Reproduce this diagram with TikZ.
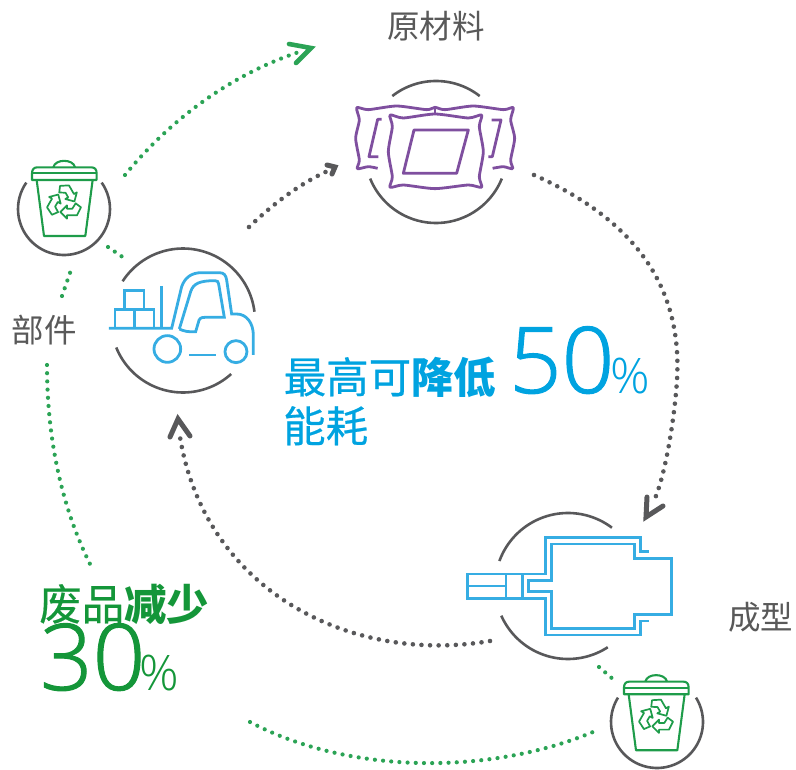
\documentclass[tikz,border=0pt]{standalone}
\usepackage{fontspec}
\setmainfont{Noto Sans CJK SC}
\newfontfamily\cjkr[FakeBold=0.5]{Noto Sans CJK SC}
\newfontfamily\numfont[FakeBold=1.2]{Open Sans Light}
\newfontfamily\numthin{Open Sans Light}
\newcommand{\heavy}[1]{{\normalfont\bfseries #1}}
\definecolor{gr}{HTML}{58585A}
\definecolor{txtgr}{HTML}{595959}
\definecolor{blueT}{HTML}{00A3E0}
\definecolor{blueI}{HTML}{36ADE3}
\definecolor{greenT}{HTML}{149639}
\definecolor{greenI}{HTML}{1E9C4A}
\definecolor{greenD}{HTML}{2BA355}
\definecolor{purp}{HTML}{7F4F9F}
\tikzset{
  ring/.style={draw=gr,line width=2.6pt},
  graydots/.style={draw=gr,line width=4.6pt,line cap=round,dash pattern=on 0pt off 8.6pt},
  greendots/.style={draw=greenD,line width=4.2pt,line cap=round,dash pattern=on 0pt off 8.2pt},
  graytip/.style={draw=gr,line width=5pt,line cap=round,line join=miter},
  greentip/.style={draw=greenD,line width=4.6pt,line cap=round,line join=miter},
  pillow/.style={draw=purp,line width=2.8pt,line join=round},
  lift/.style={draw=blueI,line width=2.8pt,line join=miter},
  mold/.style={draw=blueI,line width=2.8pt,line join=miter},
  binline/.style={draw=greenI,line width=2.1pt,line join=round},
  lbl/.style={anchor=base west,inner sep=0pt,text=txtgr,font=\fontsize{32.5}{32.5}\selectfont},
  bluetxt/.style={anchor=base west,inner sep=0pt,text=blueT,font=\fontsize{42.5}{42.5}\cjkr},
  greentxt/.style={anchor=base west,inner sep=0pt,text=greenT,font=\fontsize{42.5}{42.5}\cjkr},
}
\newcommand{\ringarc}[5]{\draw[ring] plot[domain=#4:#5,samples=50,smooth] ({#1+#3*cos(\x)},{#2+#3*sin(\x)});}
\newcommand{\binicon}[2]{%
  \begin{scope}[shift={(#1,#2)},x=0.3333pt,y=-0.3333pt]
    \draw[binline] (66,90) -- (66,70) .. controls (66,58) and (72,52) .. (82,52) -- (244,52) .. controls (254,52) and (260,58) .. (260,70) -- (260,90) -- cycle;
    \draw[binline] (66,70) -- (260,70);
    \draw[binline] (130,52) .. controls (135,26) and (190,26) .. (195,52);
    \draw[binline] (80,90) -- (102,258) -- (226,258) -- (248,90);
    \foreach \r in {0,120,240}{
      \draw[binline,line width=1.7pt,shift={(163,158)},rotate=\r,yscale=-1]
        (-12,-28) -- (8,-8) -- (8,-18) -- (24,-18) -- (34,-2) -- (50,-14) -- (38,-38) -- (8,-38) -- (8,-48) -- cycle;
    }
  \end{scope}}
\begin{document}
\begin{tikzpicture}[x=1pt,y=-1pt]
\useasboundingbox (0,0) rectangle (796,770);
% rings
\ringarc{436}{152}{71}{-128}{-52}
\ringarc{436}{152}{71}{22}{158}
\ringarc{183}{320.5}{72}{-147}{-7}
\ringarc{183}{320.5}{72}{48}{158}
\ringarc{568}{586}{73}{-160}{-53}
\ringarc{568}{586}{73}{57}{156}
\ringarc{64}{209}{46}{-35}{215}
\ringarc{657}{722}{46}{-32}{212}
% named connector ends
\coordinate (g1s) at (249,227); \coordinate (g1e) at (330,170); \coordinate (g1t) at (335,167);
\coordinate (g2s) at (534,175); \coordinate (g2m) at (677,380); \coordinate (g2e) at (653,503); \coordinate (g2t) at (646,517);
\coordinate (g3s) at (490,641); \coordinate (g3e) at (180,437); \coordinate (g3t) at (178,419);
\coordinate (e1s) at (125,175); \coordinate (e1e) at (299,52); \coordinate (e1t) at (311,48);
\coordinate (e2s) at (47,365); \coordinate (e2e) at (93,570);
\coordinate (e3s) at (250,722); \coordinate (e3e) at (593,732);
\coordinate (e4s) at (108,247); \coordinate (e4e) at (124,258);
\coordinate (e5s) at (62,296); \coordinate (e5e) at (71,270);
\coordinate (e6s) at (599,667); \coordinate (e6e) at (614,680);
% gray dotted
\draw[graydots] (g1s) .. controls (272,205) and (300,183) .. (g1e);
\draw[graytip] (327,165) -- (g1t) -- (332,174);
\draw[graydots] (g2s) .. controls (626,216) and (683,279) .. (g2m) .. controls (675,413) and (666,476) .. (g2e);
\draw[graytip] (647,497) -- (g2t) -- (663,506);
\draw[graydots] (g3s) .. controls (350,665) and (205,590) .. (g3e);
\draw[graytip] (170,437) -- (g3t) -- (190,436);
% green dotted
\draw[greendots] (e1s) .. controls (170,120) and (230,75) .. (e1e);
\draw[greentip] (289,44) -- (e1t) -- (296,63);
\draw[greendots] (e2s) .. controls (47,440) and (62,510) .. (e2e);
\draw[greendots] (e3s) .. controls (350,775) and (490,775) .. (e3e);
\draw[greendots] (e4s) -- (e4e);
\draw[greendots] (e5s) -- (e5e);
\draw[greendots] (e6s) -- (e6e);
% pillows
\begin{scope}[shift={(340,70)},x=0.3333pt,y=-0.3333pt]
  \draw[pillow] plot[smooth,tension=.4] coordinates {(113,295) (85,290) (52,296) (58,270) (47,205) (58,150) (50,113) (85,119) (170,108) (260,119) (285,112) (315,119) (400,108) (490,119) (520,113) (512,150) (524,205) (512,270) (518,296) (490,290) (458,295)};
  \draw[pillow] (285,112) -- (285,132);
  \draw[pillow,fill=white] plot[smooth cycle,tension=.4] coordinates {(150,135) (190,144) (285,132) (385,144) (425,135) (418,170) (430,245) (418,320) (425,352) (385,345) (285,356) (190,345) (150,352) (157,320) (145,245) (157,170)};
  \draw[pillow] (222,180) -- (385,180) -- (350,310) -- (190,310) -- cycle;
  \draw[pillow] (125,148) -- (113,148) -- (87,260) -- (115,260);
  \draw[pillow] (455,150) -- (483,150) -- (457,260) -- (445,260);
\end{scope}
% forklift
\begin{scope}[shift={(100,240)},x=0.3333pt,y=-0.3333pt]
  \draw[lift] (27,265) -- (215,265) -- (245,140) .. controls (255,112) and (275,98) .. (305,98) -- (358,98) .. controls (372,98) and (378,106) .. (380,120) -- (395,222) -- (410,222) .. controls (440,222) and (460,250) .. (460,285) -- (460,345);
  \draw[lift] (238,267) -- (272,155) .. controls (280,130) and (300,122) .. (345,122) .. controls (352,122) and (355,125) .. (356,132) -- (373,232) -- (315,232) .. controls (302,232) and (297,236) .. (295,248) -- (287,275) .. controls (265,277) and (250,273) .. (238,267);
  \draw[lift] (185,138) -- (185,265);
  \draw[lift] (73,208) -- (73,152) -- (132,152) -- (132,208);
  \draw[lift] (45,265) -- (45,208) -- (162,208) -- (162,265);
  \draw[lift] (103,208) -- (103,265);
  \draw[lift] (202,327) circle[radius=40];
  \draw[lift] (408,335) circle[radius=33];
  \draw[lift] (268,345) -- (348,345);
\end{scope}
% mold
\begin{scope}[shift={(450,490)},x=0.3333pt,y=-0.3333pt]
  \draw[mold] (597,185) -- (572,185) -- (572,142) -- (287,142) -- (287,252) -- (52,252) -- (52,325) -- (287,325) -- (287,435) -- (572,435) -- (572,393) -- (597,393);
  \draw[mold] (235,272) -- (305,272) -- (305,162) -- (553,162) -- (553,205) -- (664,205) -- (664,373) -- (553,373) -- (553,415) -- (305,415) -- (305,305) -- (235,305) -- cycle;
  \draw[mold] (52,288) -- (168,288);
  \draw[mold] (168,252) -- (168,325);
  \draw[mold] (218,252) -- (218,325);
\end{scope}
% bins
\binicon{10}{150}
\binicon{602}{664.3}
% labels
\node[lbl] (raw) at (387,38.5) {原材料};
\node[lbl] (part) at (11.5,343) {部件};
\node[lbl] (form) at (728,629) {成型};
\node[bluetxt] (save1) at (283.5,393) {最高可\heavy{降低}};
\node[bluetxt] (save2) at (283,442) {能耗};
\node[anchor=base west,inner sep=0pt,text=blueT,font=\fontsize{92}{92}\numfont] (num50) at (509,393) {50\kern-4pt{\fontsize{49}{49}\numthin\%}};
\node[greentxt] (waste) at (39,620) {废品\heavy{减少}};
\node[anchor=base west,inner sep=0pt,text=greenT,font=\fontsize{92}{92}\numfont] (num30) at (40,690) {30\kern-6pt{\fontsize{49}{49}\numthin\%}};
\end{tikzpicture}
\end{document}
